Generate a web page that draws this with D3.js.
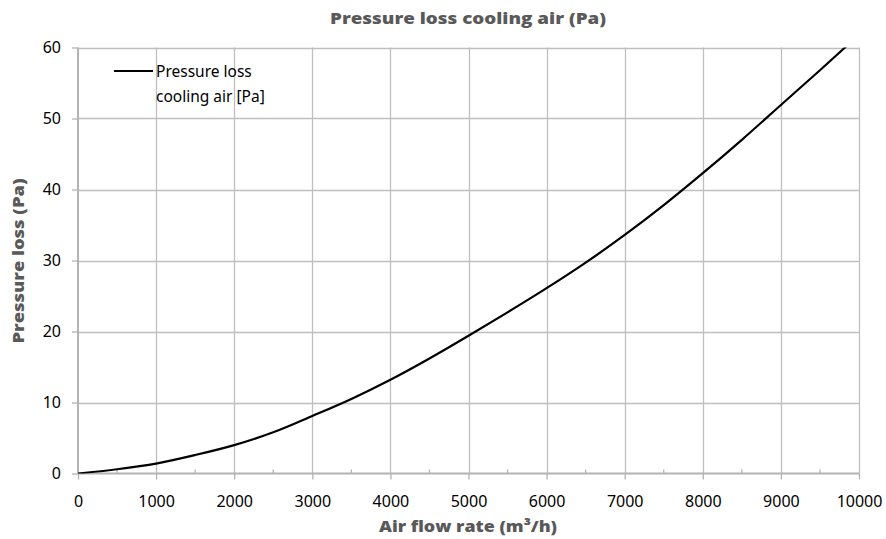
<!DOCTYPE html>
<html>
  <head>
    <meta charset="utf-8">
    <title>Pressure loss cooling air</title>
    <script src="https://cdn.jsdelivr.net/npm/d3@7/dist/d3.min.js"></script>
    <style>
      body { margin: 0; background: #fff; }
    </style>
  </head>
  <body>
  <script>

    // Air flow (m3/h) and the pressure loss
    var flowRates = [0, 500, 1000, 1500, 2000, 2500, 3000, 3500, 4000, 4500, 5000,
                     5500, 6000, 6500, 7000, 7500, 8000, 8500, 9000, 9500, 10000];
    var pressureLoss = [0, 0.6, 1.4, 2.6, 4.0, 5.8, 8.1, 10.5, 13.2, 16.2, 19.4,
                        22.7, 26.1, 29.7, 33.6, 37.8, 42.3, 47.0, 51.9, 56.8, 61.8];

    var xTicks = [0, 1000, 2000, 3000, 4000, 5000, 6000, 7000, 8000, 9000, 10000];
    var xMinorTicks = [500, 1500, 2500, 3500, 4500, 5500, 6500, 7500, 8500, 9500];
    var yTicks = [0, 10, 20, 30, 40, 50, 60];

    var chartTitle = "Pressure loss cooling air (Pa)";
    var xTitle = "Air flow rate (m\u00b3/h)";
    var yTitle = "Pressure loss (Pa)";
    var legendLines = ["Pressure loss", "cooling air [Pa]"];

    var width = 886, height = 539;
    // plot edges (note: "top" is reserved on window, so use plot* names)
    var plotLeft = 78, plotRight = 859, plotTop = 47.5, plotBottom = 473.5;

    var svg = d3.select("body").append("svg")
                .attr("width", width)
                .attr("height", height);

    var x = d3.scaleLinear().domain([0, 10000]).range([plotLeft, plotRight]);
    var y = d3.scaleLinear().domain([0, 60]).range([plotBottom, plotTop]);

    var gridColor = "#bfbfbf";
    var axisColor = "#b3b3b3";
    var labelFont = "'Noto Sans', sans-serif";
    var titleFont = "'Open Sans', sans-serif";

    svg.append("clipPath").attr("id", "plotClip")
       .append("rect")
       .attr("x", plotLeft).attr("y", plotTop)
       .attr("width", plotRight - plotLeft).attr("height", plotBottom - plotTop);

    // Grid
    svg.append("g").selectAll("line")
       .data(xTicks.slice(1))
       .enter().append("line")
       .attr("x1", function (d) { return Math.round(x(d)) + 0.5; })
       .attr("x2", function (d) { return Math.round(x(d)) + 0.5; })
       .attr("y1", plotTop).attr("y2", plotBottom)
       .style("stroke", gridColor).style("stroke-width", 1.3);

    svg.append("g").selectAll("line")
       .data(yTicks.slice(1))
       .enter().append("line")
       .attr("x1", plotLeft).attr("x2", plotRight)
       .attr("y1", function (d) { return Math.round(y(d)) + 0.5; })
       .attr("y2", function (d) { return Math.round(y(d)) + 0.5; })
       .style("stroke", gridColor).style("stroke-width", 1.3);

    // Axes
    var xAxis = d3.axisBottom(x).tickValues(xTicks).tickFormat(d3.format("d"))
                  .tickSize(6).tickPadding(16);
    var gx = svg.append("g").attr("transform", "translate(0," + plotBottom + ")").call(xAxis);
    gx.select(".domain").attr("d", "M" + plotLeft + ",0H" + plotRight)
      .style("stroke", axisColor).style("stroke-width", 2);
    gx.selectAll(".tick line").style("stroke", axisColor).style("stroke-width", 1.3);
    gx.selectAll(".tick text").style("font-family", labelFont).style("font-size", "16px").style("fill", "#000");

    svg.append("g").attr("transform", "translate(0," + plotBottom + ")")
       .selectAll("line").data(xMinorTicks).enter().append("line")
       .attr("x1", function (d) { return x(d); })
       .attr("x2", function (d) { return x(d); })
       .attr("y1", 0).attr("y2", -4)
       .style("stroke", axisColor).style("stroke-width", 1.3);

    var yAxis = d3.axisLeft(y).tickValues(yTicks).tickSize(6).tickPadding(11);
    var gy = svg.append("g").attr("transform", "translate(" + plotLeft + ",0)").call(yAxis);
    gy.select(".domain").attr("d", "M0," + plotTop + "V" + plotBottom)
      .style("stroke", axisColor).style("stroke-width", 2);
    gy.selectAll(".tick line").style("stroke", axisColor).style("stroke-width", 1.3);
    gy.selectAll(".tick text").style("font-family", labelFont).style("font-size", "16px").style("fill", "#000");

    // Curve
    var points = flowRates.map(function (d, i) { return [d, pressureLoss[i]]; });
    var line = d3.line()
                 .x(function (d) { return x(d[0]); })
                 .y(function (d) { return y(d[1]); })
                 .curve(d3.curveCatmullRom);

    svg.append("path")
       .datum(points)
       .attr("d", line)
       .attr("clip-path", "url(#plotClip)")
       .style("fill", "none")
       .style("stroke", "#000")
       .style("stroke-width", 2.2);

    // Legend
    svg.append("line")
       .attr("x1", 114).attr("x2", 153)
       .attr("y1", 71).attr("y2", 71)
       .style("stroke", "#000").style("stroke-width", 2.2);

    svg.append("g").selectAll("text")
       .data(legendLines).enter().append("text")
       .attr("x", 156)
       .attr("y", function (d, i) { return 77 + i * 25; })
       .style("font-family", labelFont).style("font-size", "15.5px")
       .text(function (d) { return d; });

    // Titles
    svg.append("text")
       .attr("x", 468).attr("y", 24)
       .attr("text-anchor", "middle")
       .attr("textLength", 276).attr("lengthAdjust", "spacingAndGlyphs")
       .style("font-family", titleFont).style("font-weight", 800)
       .style("font-size", "16px").style("fill", "#595959")
       .text(chartTitle);

    svg.append("text")
       .attr("x", 468).attr("y", 532)
       .attr("text-anchor", "middle")
       .attr("textLength", 178).attr("lengthAdjust", "spacingAndGlyphs")
       .style("font-family", titleFont).style("font-weight", 800)
       .style("font-size", "16px").style("fill", "#595959")
       .text(xTitle);

    svg.append("text")
       .attr("transform", "translate(24,261) rotate(-90)")
       .attr("text-anchor", "middle")
       .attr("textLength", 165).attr("lengthAdjust", "spacingAndGlyphs")
       .style("font-family", titleFont).style("font-weight", 800)
       .style("font-size", "16px").style("fill", "#595959")
       .text(yTitle);

  </script>
  </body>
</html>
